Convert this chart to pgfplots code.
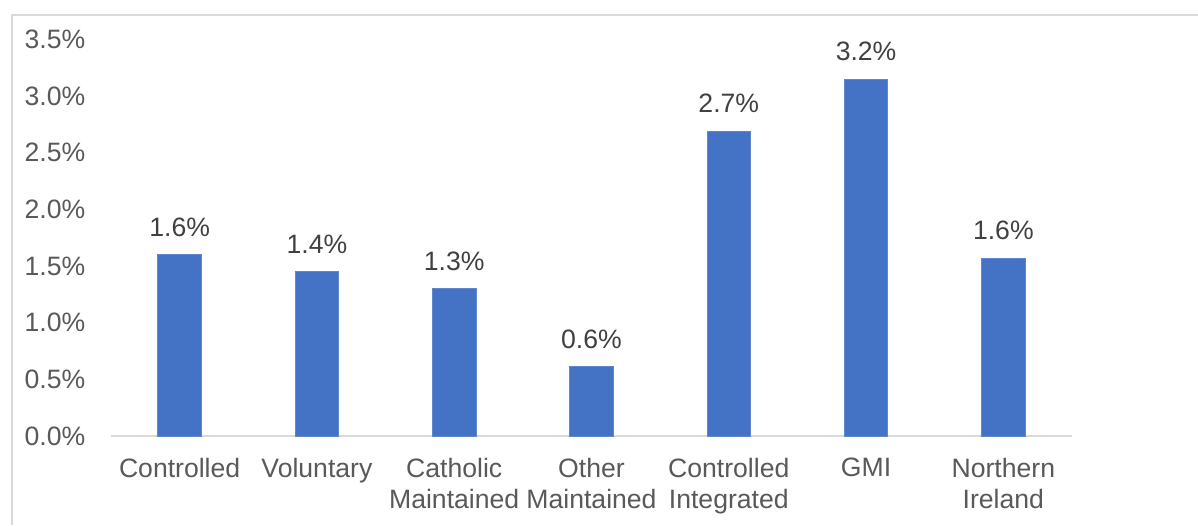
\documentclass[border=0pt]{standalone}
\usepackage{fontspec}
\setmainfont{Liberation Sans}
\usepackage{pgfplots}
\pgfplotsset{compat=1.18}

\definecolor{barblue}{HTML}{4472C4}
\definecolor{framegray}{HTML}{D9D9D9}
\definecolor{ticktext}{HTML}{595959}
\definecolor{labeltext}{HTML}{404040}

\begin{document}
\begin{tikzpicture}
% page is 1198x525 px, 1px = 0.5pt; axis lower-left corner at px (111,436)
\useasboundingbox (-55.5pt,-44.5pt) rectangle (543.5pt,218pt);
\begin{axis}[
    at={(0pt,0pt)}, anchor=south west,
    scale only axis,
    width=480.5pt,
    height=198.25pt,
    ymin=0, ymax=3.5,
    xmin=-0.5, xmax=6.5,
    ytick={0,0.5,...,3.5},
    xtick=data,
    xticklabels={Controlled,Voluntary,{Catholic\\Maintained},{Other\\Maintained},{Controlled\\Integrated},GMI,{Northern\\Ireland}},
    /pgf/number format/assume math mode=true,
    yticklabel={\pgfmathprintnumber[fixed,fixed zerofill,precision=1]{\tick}\%},
    axis lines*=left,
    y axis line style={draw=none},
    x axis line style={color=framegray, line width=0.9pt},
    major tick length=0pt,
    tick label style={font=\fontsize{13.3}{15.5}\selectfont, text=ticktext},
    yticklabel style={anchor=east, inner sep=0pt, xshift=-12.7pt},
    xticklabel style={anchor=north, inner sep=0pt, yshift=-11pt, align=center},
    ybar,
    bar width=21.75pt,
    nodes near coords,
    point meta=explicit symbolic,
    nodes near coords style={font=\fontsize{13.3}{15.5}\selectfont, text=labeltext, anchor=south, inner sep=0pt, yshift=9pt},
    clip=false,
]
\addplot[fill=barblue, draw=barblue!85!white, line width=0.4pt] coordinates {
    (0,1.60) [1.6\%]
    (1,1.45) [1.4\%]
    (2,1.30) [1.3\%]
    (3,0.61) [0.6\%]
    (4,2.69) [2.7\%]
    (5,3.15) [3.2\%]
    (6,1.57) [1.6\%]
};
\end{axis}
\draw[color=framegray, line width=0.9pt] (-49.5pt,-44.5pt) -- (-49.5pt,210.5pt) -- (543.5pt,210.5pt);
\end{tikzpicture}
\end{document}
